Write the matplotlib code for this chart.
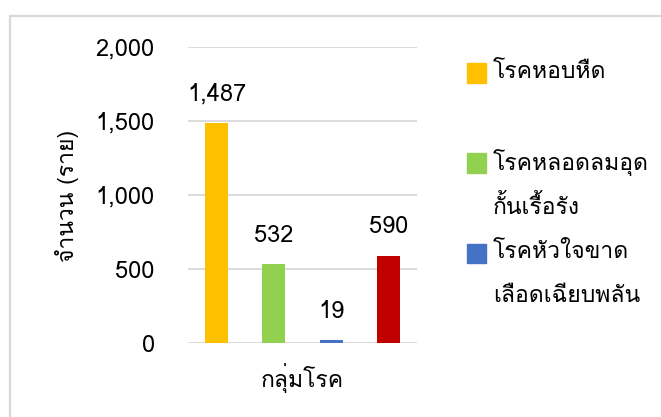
import matplotlib
matplotlib.use("Agg")
import matplotlib.pyplot as plt
from matplotlib.patches import Rectangle
from matplotlib.ticker import FuncFormatter

# fonts: Loma is the Tahoma-like Thai font
plt.rcParams['font.family'] = ['Loma', 'DejaVu Sans']

# data
groups = ['โรคหอบหืด', 'โรคหลอดลมอุด\nกั้นเรื้อรัง', 'โรคหัวใจขาด\nเลือดเฉียบพลัน', '']
cases = [1487, 532, 19, 590]
colors = ['#FFC000', '#92D050', '#4472C4', '#C00000']
yticks = [0, 500, 1000, 1500, 2000]
ylabel = 'จำนวน (ราย)'
xlabel = 'กลุ่มโรค'

W, H = 661, 417
fig = plt.figure(figsize=(W / 100, H / 100), dpi=100)

# outer chart frame (runs off the right and bottom edge)
fig.add_artist(Rectangle((10 / W, -0.2), 1.2, 1.2 - 16 / H, transform=fig.transFigure,
                         fill=False, edgecolor='#d9d9d9', lw=1.6))

ax = fig.add_axes([188 / W, 1 - 343 / H, 229 / W, 296 / H])
x = list(range(len(cases)))
bars = ax.bar(x, cases, width=0.40, color=colors, zorder=3)

ax.set_xlim(-0.5, len(cases) - 0.5)
ax.set_ylim(0, 2000)
ax.set_yticks(yticks)
ax.yaxis.set_major_formatter(FuncFormatter(lambda v, p: f'{int(v):,}'))
ax.set_xticks([])
ax.tick_params(axis='y', length=0, pad=24, labelsize=17)
for s in ax.spines.values():
    s.set_visible(False)
ax.grid(axis='y', color='#d9d9d9', lw=1.3, zorder=0)

for xi, v in zip(x, cases):
    ax.annotate(f'{v:,}', (xi, v), xytext=(0, 21), textcoords='offset points',
                ha='center', va='center', fontsize=17)

fig.text(67 / W, 1 - 196 / H, ylabel, rotation=90, ha='center', va='center', fontsize=16.5)
fig.text(302 / W, 1 - 378 / H, xlabel, ha='center', va='center', fontsize=16.5)

# legend (the fourth entry is cut off in the original)
ly = [73, 163, 253]
for i in range(3):
    fig.add_artist(Rectangle((467 / W, 1 - (ly[i] + 9.5) / H), 19 / W, 19 / H,
                             transform=fig.transFigure, color=colors[i]))
    for j, line in enumerate(groups[i].split('\n')):
        fig.text(493 / W, 1 - (ly[i] + 44 * j) / H, line, ha='left', va='center', fontsize=16.5)

fig.savefig('out.png', dpi=100)
